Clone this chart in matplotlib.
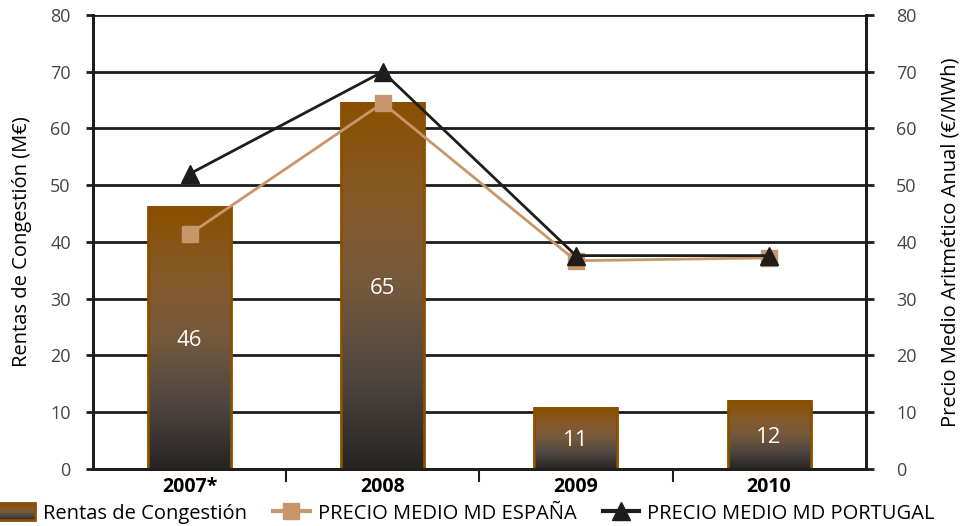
import numpy as np
import matplotlib.pyplot as plt
from matplotlib.colors import LinearSegmentedColormap
from matplotlib.legend_handler import HandlerBase
from matplotlib.lines import Line2D
from matplotlib.patches import Patch, Rectangle

plt.rcParams['font.family'] = ['Open Sans', 'DejaVu Sans']

years = ["2007*", "2008", "2009", "2010"]
rentas = [46.2, 64.5, 10.8, 12.0]
rentas_labels = ["46", "65", "11", "12"]
precio_es = [41.4, 64.5, 36.7, 37.2]
precio_pt = [52.0, 70.0, 37.6, 37.6]

BROWN = "#8a4f00"
TAN = "#c8966a"
DARK = "#1f1c1c"

grad = LinearSegmentedColormap.from_list(
    "bar", [(0.0, "#262424"), (0.25, "#4f4640"), (0.5, "#75593c"),
            (0.72, "#855a2a"), (1.0, "#8a5000")])


class GradientHandler(HandlerBase):
    # legend swatch with the same vertical gradient as the bars
    def create_artists(self, legend, orig_handle, xdescent, ydescent,
                       width, height, fontsize, trans):
        n = 20
        arts = []
        for i in range(n):
            arts.append(Rectangle((-xdescent, -ydescent + i * height / n), width, height / n,
                                  facecolor=grad((i + 0.5) / n), edgecolor="none",
                                  transform=trans))
        arts.append(Rectangle((-xdescent, -ydescent), width, height, facecolor="none",
                              edgecolor=BROWN, linewidth=2, transform=trans))
        return arts


fig = plt.figure(figsize=(9.64, 5.26), dpi=100)
ax = fig.add_axes([0.0965, 0.1084, 0.8015, 0.8631])
ax2 = ax.twinx()

x = np.arange(len(years))
width = 0.43
g = np.linspace(0, 1, 256).reshape(-1, 1)
for xi, h, lab in zip(x, rentas, rentas_labels):
    ax.imshow(g, cmap=grad, origin="lower", aspect="auto",
              extent=[xi - width / 2, xi + width / 2, 0, h], zorder=2)
    ax.bar(xi, h, width, facecolor="none", edgecolor=BROWN, linewidth=2, zorder=3)
    ax.text(xi, h / 2, lab, color="white", ha="center", va="center_baseline",
            fontsize=16, zorder=4)

ax.set_xlim(-0.5, len(years) - 0.5)
ax.set_ylim(0, 80)
ax2.set_ylim(0, 80)
ax.set_yticks(range(0, 81, 10))
ax2.set_yticks(range(0, 81, 10))
ax.grid(axis="y", color=DARK, linewidth=2)
ax.set_axisbelow(True)

ax.set_xticks(x)
ax.set_xticklabels(years, fontweight="bold", fontsize=14)
ax.set_xticks(np.arange(0.5, len(years) - 0.5), minor=True)
ax.tick_params(axis="x", which="major", length=0, pad=6)
ax.tick_params(axis="x", which="minor", length=9, width=1.5, color=DARK)
ax.tick_params(axis="y", length=5, width=2, color=DARK, labelsize=13, labelcolor="#444444", pad=11)
ax2.tick_params(axis="y", length=6, width=2, color=DARK, labelsize=13, labelcolor="#444444", pad=16)

for a in (ax, ax2):
    a.spines["top"].set_visible(False)
    for s in ("left", "right", "bottom"):
        a.spines[s].set_linewidth(2)
        a.spines[s].set_color(DARK)

ax2.plot(x, precio_es, color=TAN, linewidth=2, marker="s", markersize=11, zorder=5)
ax2.plot(x, precio_pt, color=DARK, linewidth=2, marker="^", markersize=13, zorder=6)

ax.set_ylabel("Rentas de Congestión (M€)", fontsize=14.5, labelpad=13)
ax2.set_ylabel("Precio Medio Aritmético Anual (€/MWh)", fontsize=14.5, labelpad=17)

handles = [
    Patch(facecolor="#5a4a3a", edgecolor=BROWN, linewidth=2),
    Line2D([], [], color=TAN, linewidth=3, marker="s", markersize=11),
    Line2D([], [], color=DARK, linewidth=3, marker="^", markersize=13),
]
labels = ["Rentas de Congestión", "PRECIO MEDIO MD ESPAÑA", "PRECIO MEDIO MD PORTUGAL"]
fig.legend(handles, labels, loc="lower left", bbox_to_anchor=(-0.02, -0.03), ncol=3,
           frameon=False, fontsize=14.5, handlelength=1.8, handleheight=0.9,
           columnspacing=1.3, handletextpad=0.4,
           handler_map={Patch: GradientHandler()})

fig.savefig("out.png", dpi=100)
